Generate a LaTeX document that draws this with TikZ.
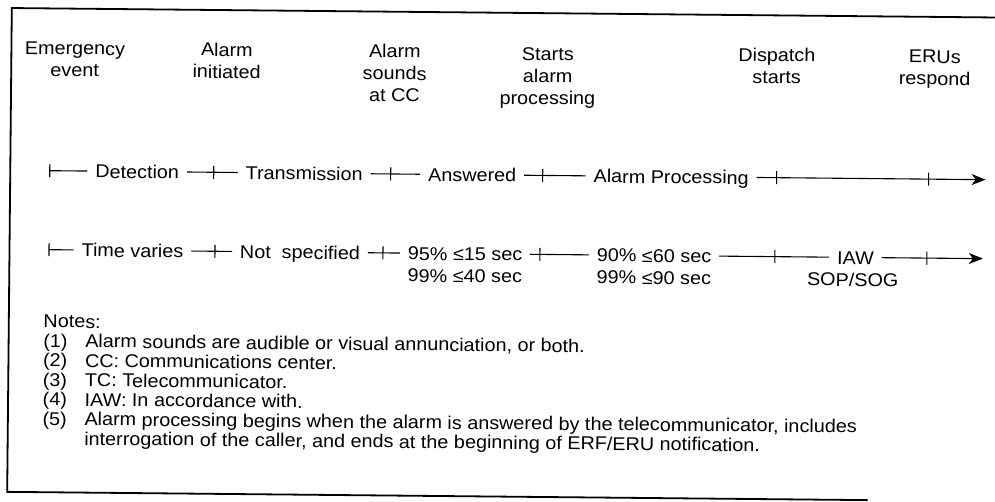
\documentclass[tikz,border=0pt]{standalone}
\usepackage{fontspec}
\setmainfont{Liberation Sans}[FakeStretch=1.07]
\usetikzlibrary{arrows.meta}
\begin{document}
\begin{tikzpicture}[x=1pt,y=1pt,
  txt/.style={font=\fontsize{18.5}{22}\selectfont, inner sep=0pt, outer xsep=8pt, anchor=base},
  hdr/.style={font=\fontsize{18.5}{22}\selectfont, inner sep=0pt, anchor=base},
  notestyle/.style={font=\fontsize{18.5}{19.5}\selectfont, inner sep=0pt, anchor=base west},
  ln/.style={line width=1.1pt},
  tk/.style={line width=1.1pt},
  frame/.style={line width=1.8pt},
  arr/.style={-{Stealth[length=14pt,width=11pt,inset=4pt]}}
]
\useasboundingbox (0,0) rectangle (995,-501);
\clip (0,0) rectangle (995,-501);
\fill[white] (0,0) rectangle (995,-501);
\begin{scope}[rotate around={-0.55:(497.5,-250.5)}, transform shape]
% frame
\coordinate (fTR) at (1010,-12.7);
\coordinate (fTL) at (9.5,-12.7);
\coordinate (fBL) at (9.5,-496.6);
\coordinate (fBR) at (870,-496.6);
\draw[frame] (fTR) -- (fTL) -- (fBL) -- (fBR);

% headers
\node[hdr] (h1) at (73,-58.8) {\begin{tabular}[t]{@{}c@{}}Emergency\\event\end{tabular}};
\node[hdr] (h2) at (225,-58.8) {\begin{tabular}[t]{@{}c@{}}Alarm\\initiated\end{tabular}};
\node[hdr] (h3) at (393,-58.8) {\begin{tabular}[t]{@{}c@{}}Alarm\\sounds\\at CC\end{tabular}};
\node[hdr] (h4) at (546,-60) {\begin{tabular}[t]{@{}c@{}}Starts\\alarm\\processing\end{tabular}};
\node[hdr] (h5) at (775,-58.8) {\begin{tabular}[t]{@{}c@{}}Dispatch\\starts\end{tabular}};
\node[hdr] (h6) at (933,-58.8) {\begin{tabular}[t]{@{}c@{}}ERUs\\respond\end{tabular}};

% row 1
\coordinate (a0) at (49,-175);
\coordinate (a1) at (213,-175);
\coordinate (a2) at (390,-175);
\coordinate (a3) at (542,-175);
\coordinate (a4) at (776,-175);
\coordinate (a5) at (928,-175);
\coordinate (aE) at (985,-175);
\node[txt] (det) at (136.5,-181.8) {Detection};
\node[txt] (trn) at (303.5,-181.8) {Transmission};
\node[txt] (ans) at (471.5,-181.8) {Answered};
\node[txt] (apr) at (670.5,-181.8) {Alarm Processing};
\draw[ln] (a0) -- (det.west |- a0);
\draw[ln] (det.east |- a0) -- (trn.west |- a0);
\draw[ln] (trn.east |- a0) -- (ans.west |- a0);
\draw[ln] (ans.east |- a0) -- (apr.west |- a0);
\draw[ln,arr] (apr.east |- a0) -- (aE);
\foreach \t in {a0,a1,a2,a3,a4,a5} \draw[tk] ([yshift=6.5pt]\t) -- ([yshift=-6.5pt]\t);

% row 2
\coordinate (b0) at (49,-254);
\coordinate (b1) at (215,-254);
\coordinate (b2) at (383,-254);
\coordinate (b3) at (540,-254);
\coordinate (b4) at (775,-254);
\coordinate (b5) at (927,-254);
\coordinate (bE) at (983,-254);
\node[txt] (tv) at (132.5,-260.8) {Time varies};
\node[txt] (ns) at (300,-260.8) {Not\ \ specified};
\node[txt,anchor=base west] (p95) at (400,-260.8) {\begin{tabular}[t]{@{}l@{}}95\% ≤15 sec\\99\% ≤40 sec\end{tabular}};
\node[txt,anchor=base west] (p90) at (589,-260.8) {\begin{tabular}[t]{@{}l@{}}90\% ≤60 sec\\99\% ≤90 sec\end{tabular}};
\node[txt] (iaw) at (855.5,-260.8) {IAW};
\node[hdr] (sop) at (853,-282.8) {SOP/SOG};
\draw[ln] (b0) -- (tv.west |- b0);
\draw[ln] (tv.east |- b0) -- (ns.west |- b0);
\draw[ln] (ns.east |- b0) -- (p95.west |- b0);
\draw[ln] (p95.east |- b0) -- (p90.west |- b0);
\draw[ln] (p90.east |- b0) -- (iaw.west |- b0);
\draw[ln,arr] (iaw.east |- b0) -- (bE);
\foreach \t in {b0,b1,b2,b3,b4,b5} \draw[tk] ([yshift=6.5pt]\t) -- ([yshift=-6.5pt]\t);

% notes
\node[notestyle] (nt) at (44,-332) {Notes:};
\node[notestyle] (n1) at (44,-351.5) {(1)};
\node[notestyle] (t1) at (86,-351.5) {Alarm sounds are audible or visual annunciation, or both.};
\node[notestyle] (n2) at (44,-371) {(2)};
\node[notestyle] (t2) at (86,-371) {CC: Communications center.};
\node[notestyle] (n3) at (44,-390.5) {(3)};
\node[notestyle] (t3) at (86,-390.5) {TC: Telecommunicator.};
\node[notestyle] (n4) at (44,-410) {(4)};
\node[notestyle] (t4) at (86,-410) {IAW: In accordance with.};
\node[notestyle] (n5) at (44,-429.5) {(5)};
\node[notestyle] (t5) at (86,-429.5) {Alarm processing begins when the alarm is answered by the telecommunicator, includes};
\node[notestyle] (t5b) at (86,-449) {interrogation of the caller, and ends at the beginning of ERF/ERU notification.};
\end{scope}
\end{tikzpicture}
\end{document}
